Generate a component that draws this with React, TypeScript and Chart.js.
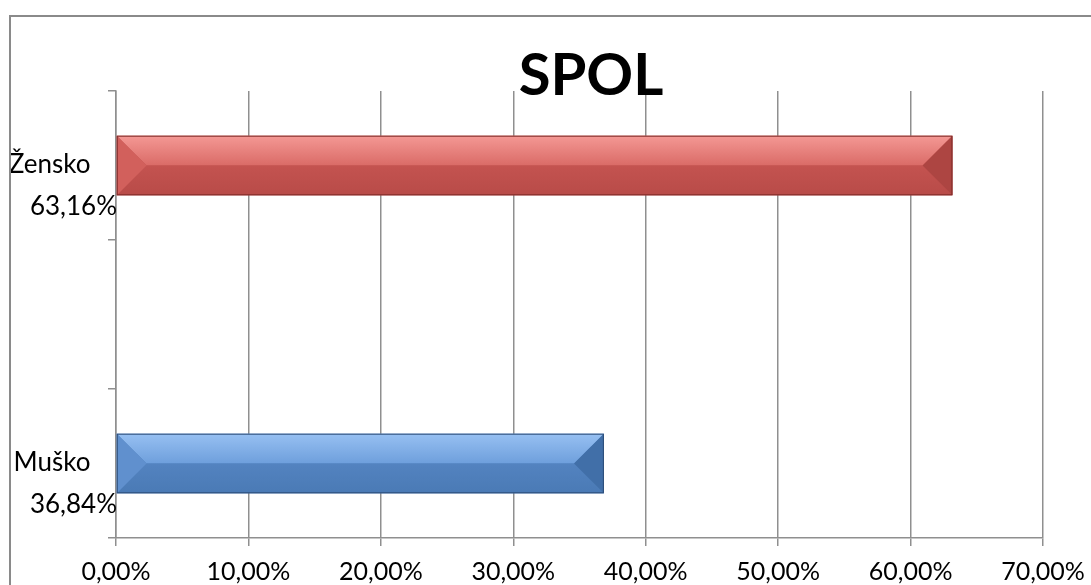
import React, { useEffect, useRef } from "react";
import { Chart, registerables } from "chart.js";

Chart.register(...registerables);

const titleText = "SPOL";
const categories: string[][] = [["Žensko    ", "63,16%"], [""], ["Muško    ", "36,84%"]];
const values: (number | null)[] = [63.16, null, 36.84];
const barColors = ["#C0504D", "#4F81BD", "#4F81BD"];
const xTickLabels = ["0,00%", "10,00%", "20,00%", "30,00%", "40,00%", "50,00%", "60,00%", "70,00%"];

const palettes = [
  { topLight: "#F49894", topDark: "#DA6B67", botTop: "#C45350", botBottom: "#B84B48", left: "#D2605C", right: "#AD4542", edge: "#7E2B29" },
  null,
  { topLight: "#97C0F2", topDark: "#6E9FDC", botTop: "#5383C0", botBottom: "#4A7AB5", left: "#6090CE", right: "#416FA8", edge: "#2C4C77" },
];

const bevelPlugin = {
  id: "bevel",
  afterDatasetsDraw(chart: any) {
    const ctx: CanvasRenderingContext2D = chart.ctx;
    const meta = chart.getDatasetMeta(0);
    meta.data.forEach((el: any, i: number) => {
      const p = palettes[i];
      if (values[i] == null || !p) return;
      const { x, y, base, height } = el.getProps(["x", "y", "base", "height"], true);
      const left = Math.min(base, x);
      const right = Math.max(base, x);
      const top = y - height / 2;
      const bottom = y + height / 2;
      const mid = y;
      const d = height / 2;
      const poly = (pts: number[][], fill: any) => {
        ctx.beginPath();
        ctx.moveTo(pts[0][0], pts[0][1]);
        for (let k = 1; k < pts.length; k++) ctx.lineTo(pts[k][0], pts[k][1]);
        ctx.closePath();
        ctx.fillStyle = fill;
        ctx.fill();
      };
      ctx.save();
      const g1 = ctx.createLinearGradient(0, top, 0, mid);
      g1.addColorStop(0, p.topLight);
      g1.addColorStop(1, p.topDark);
      poly([[left, top], [right, top], [right - d, mid], [left + d, mid]], g1);
      const g2 = ctx.createLinearGradient(0, mid, 0, bottom);
      g2.addColorStop(0, p.botTop);
      g2.addColorStop(1, p.botBottom);
      poly([[left, bottom], [right, bottom], [right - d, mid], [left + d, mid]], g2);
      poly([[left, top], [left + d, mid], [left, bottom]], p.left);
      poly([[right, top], [right - d, mid], [right, bottom]], p.right);
      ctx.strokeStyle = p.edge;
      ctx.lineWidth = 1;
      ctx.strokeRect(left + 0.5, top + 0.5, right - left - 1, height - 1);
      ctx.restore();
    });
  },
};

export default function App() {
  const ref = useRef<HTMLCanvasElement>(null);
  useEffect(() => {
    const gridColor = "#8f8f8f";
    const chart = new Chart(ref.current as HTMLCanvasElement, {
      type: "bar",
      data: {
        labels: categories,
        datasets: [
          {
            data: values,
            backgroundColor: barColors,
            borderWidth: 0,
            barPercentage: 0.4,
            categoryPercentage: 1,
          },
        ],
      },
      options: {
        indexAxis: "y",
        animation: false,
        responsive: true,
        maintainAspectRatio: false,
        layout: { padding: 0 },
        plugins: {
          legend: { display: false },
          tooltip: { enabled: false },
          title: {
            display: true,
            text: titleText,
            color: "#000",
            fullSize: true,
            font: { family: "Lato", size: 58, weight: "bold", lineHeight: 1 },
            padding: { top: 30, bottom: -14 },
          },
        },
        scales: {
          x: {
            min: 0,
            max: 70,
            ticks: {
              stepSize: 10,
              callback: (_v: any, i: number) => xTickLabels[i],
              font: { family: "Lato", size: 25 },
              color: "#000",
              padding: 11,
              maxRotation: 0,
            },
            grid: { color: gridColor, lineWidth: 1.5, tickLength: 8 },
            border: { color: gridColor, width: 1.5 },
            afterFit: (s: any) => {
              s.height = 79;
            },
          },
          y: {
            ticks: {
              font: { family: "Lato", size: 26, lineHeight: 1.6 },
              color: "#000",
              padding: -9,
              labelOffset: 20,
              crossAlign: "near",
              autoSkip: false,
            },
            grid: { drawOnChartArea: false, tickLength: 8, color: gridColor, lineWidth: 1.5, offset: true },
            border: { color: gridColor, width: 1.5 },
            afterFit: (s: any) => {
              s.width = 105;
            },
          },
          yRight: {
            position: "right",
            display: true,
            grid: { display: false },
            border: { display: false },
            ticks: { display: false },
            afterFit: (s: any) => {
              s.width = 128;
            },
          },
        },
      } as any,
      plugins: [bevelPlugin],
    });
    return () => chart.destroy();
  }, []);

  return (
    <div style={{ position: "absolute", left: 0, top: 0, width: 1091, height: 585, overflow: "hidden", background: "#fff" }}>
      <div style={{ position: "absolute", left: 9, top: 15, width: 1160, height: 600, border: "2px solid #8a8a8a" }}>
        <canvas ref={ref} />
      </div>
    </div>
  );
}
